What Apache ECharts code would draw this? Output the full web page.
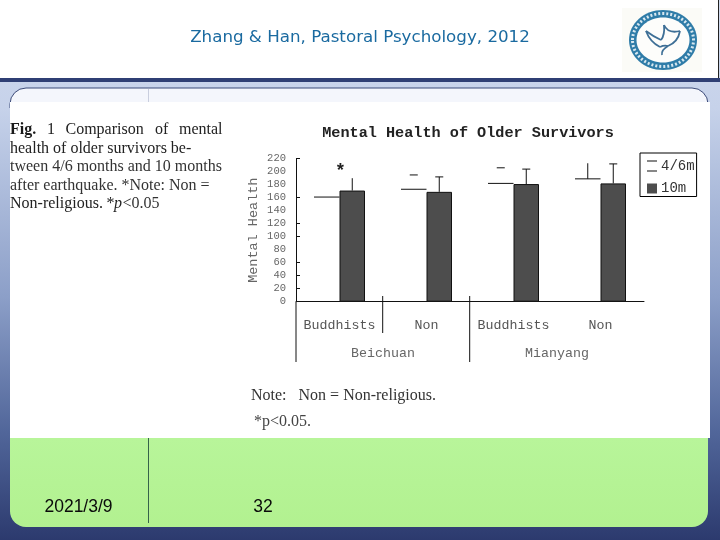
<!DOCTYPE html>
<html><head><meta charset="utf-8">
<style>html,body{margin:0;padding:0;background:#fff}#c{width:720px;height:540px}</style>
<script src="https://cdn.jsdelivr.net/npm/echarts@6/dist/echarts.min.js"></script></head>
<body><div id="c"></div>
<script>
const categories = ['Buddhists', 'Non', 'Buddhists', 'Non'];
const regions = ['Beichuan', 'Mianyang'];
const seriesNames = ['4/6m', '10m'];
const values46 = [161, 173, 182, 189];
const values10 = [171, 169, 181, 182];
const upper46 = [null, 195, 206, 213];
const upper10 = [190, 192, 204, 212];
const significance = ['*', '', '', ''];
const yTicksShown = [20, 40, 60, 100, 120, 160, 220];

const MONO = '"Liberation Mono", monospace';
const SERIF = '"Liberation Serif", serif';
const SANS = '"Liberation Sans", sans-serif';
const BAR_SHARE = 25.5 / 87;

function z(el, level) { el.z = level; el.silent = true; return el; }
function rect(x, y, w, h, fill, r) {
  return z({ type: 'rect', shape: { x, y, width: w, height: h, r: r || 0 }, style: { fill } }, -10);
}
function line(x1, y1, x2, y2, stroke, lw) {
  return z({ type: 'line', shape: { x1, y1, x2, y2 }, style: { stroke, lineWidth: lw || 1 } }, -5);
}
function txt(text, x, y, font, fill, align) {
  return z({ type: 'text', x, y, style: { text, font, fill, textAlign: align || 'left', textVerticalAlign: 'middle' } }, -5);
}
function curve(x1, y1, cpx1, cpy1, x2, y2) {
  return z({ type: 'bezierCurve', shape: { x1, y1, cpx1, cpy1, x2, y2 },
    style: { fill: 'none', stroke: '#3e6f96', lineWidth: 1.8 } }, -3);
}
function grad(stops) {
  return { type: 'linear', x: 0, y: 0, x2: 0, y2: 1, colorStops: stops };
}

const capFont = 'bold 16px ' + SERIF, bodyFont = '16px ' + SERIF;
const graphics = [
  rect(0, 0, 720, 540, grad([
    { offset: 0, color: '#d2dbee' }, { offset: 0.2, color: '#c6d2ea' },
    { offset: 0.55, color: '#8c9fc8' }, { offset: 0.8, color: '#51669a' }, { offset: 1, color: '#2c3a6e' }])),
  rect(0, 0, 718, 78, '#ffffff'),
  line(718.5, 0, 718.5, 78, '#222'),
  rect(0, 78, 720, 4, '#2f3f74'),
  z({ type: 'rect', shape: { x: 10, y: 88, width: 698, height: 20, r: [16, 16, 0, 0] },
      style: { fill: '#f4f6fc', stroke: '#3b4a78', lineWidth: 1 } }, -9),
  z({ type: 'rect', shape: { x: 10, y: 438, width: 698, height: 89, r: [0, 0, 16, 16] },
      style: { fill: grad([{ offset: 0, color: '#b8f59a' }, { offset: 1, color: '#b2f190' }]) } }, -9),
  z({ type: 'rect', shape: { x: 10, y: 102, width: 700, height: 336 }, style: { fill: '#fff' } }, -8),
  line(148.5, 89, 148.5, 102, '#c9cede'),
  line(148.5, 438, 148.5, 523, '#35624a'),

  // header
  txt('Zhang & Han, Pastoral Psychology, 2012', 360, 38, '16.7px "DejaVu Sans", sans-serif', '#1a6aa0', 'center'),

  // logo
  z({ type: 'rect', shape: { x: 622, y: 8, width: 80, height: 64 }, style: { fill: '#fbfbf7' } }, -5),
  z({ type: 'ellipse', shape: { cx: 663, cy: 40, rx: 34, ry: 30 }, style: { fill: '#2f7ca8' } }, -4),
  z({ type: 'ellipse', shape: { cx: 663, cy: 40, rx: 30.5, ry: 26.5 },
      style: { fill: 'none', stroke: '#d8e8f0', lineWidth: 3, lineDash: [2, 2] } }, -4),
  z({ type: 'ellipse', shape: { cx: 663, cy: 40, rx: 26.5, ry: 22.5 }, style: { fill: '#fdfdfb' } }, -4),
  curve(646, 31, 654, 37, 661, 40),
  curve(646, 31, 650, 42, 660, 47),
  curve(661, 40, 665, 35, 664, 25),
  curve(664, 25, 668, 34, 680, 31),
  curve(680, 31, 678, 42, 668, 46),
  curve(668, 46, 661, 50, 662, 55),
  curve(660, 47, 664, 45, 668, 46),
  txt('1 9 5 1', 663, 57, '6px ' + SANS, '#8a9aa8', 'center'),

  // figure caption, set word by word like the justified original
  txt('Fig.', 10, 130, capFont, '#1a1a1a'),
  txt('1', 47, 130, bodyFont, '#222'), txt('Comparison', 65.5, 130, bodyFont, '#222'),
  txt('of', 155, 130, bodyFont, '#222'), txt('mental', 179, 130, bodyFont, '#222'),
  txt('health of older survivors be-', 10, 149, bodyFont, '#222'),
  txt('tween 4/6 months and 10 months', 10, 167, bodyFont, '#333'),
  txt('after earthquake. *Note: Non =', 10, 186, bodyFont, '#333'),
  txt('Non-religious.', 10, 204, bodyFont, '#222'),
  txt('*', 106.5, 204, bodyFont, '#222'),
  txt('p', 114, 204, 'italic 16px ' + SERIF, '#222'),
  txt('<0.05', 122.5, 204, bodyFont, '#333'),

  // note below the chart
  txt('Note:   Non = Non-religious.', 251, 396, bodyFont, '#333'),
  txt('*p<0.05.', 254, 422, bodyFont, '#444'),

  // footer
  txt('2021/3/9', 78.5, 507, '17.5px ' + SANS, '#0a0a0a', 'center'),
  txt('32', 263, 507, '17.5px ' + SANS, '#0a0a0a', 'center'),

  // group separators of the category axis
  line(296, 302, 296, 362, '#111'),
  line(382.7, 296, 382.7, 333, '#111'),
  line(469.7, 296, 469.7, 362, '#111')
];

function renderMarks(params, api) {
  const i = api.value(0), top46 = api.value(1), err46 = api.value(2), err10 = api.value(3);
  const w = api.size([1, 0])[0] * BAR_SHARE;
  const cx = api.coord([i, 0])[0];
  const y = v => api.coord([i, v])[1];
  const st = { stroke: '#111', lineWidth: 1, fill: 'none' };
  const seg = (x1, y1, x2, y2) => ({ type: 'line', shape: { x1, y1, x2, y2 }, style: st });
  const kids = [seg(cx - w, y(top46), cx, y(top46))];
  const x46 = cx - w / 2, x10 = cx + w / 2;
  if (!isNaN(err46)) {
    if (i === 3) kids.push(seg(x46, y(top46), x46, y(err46)));
    else kids.push(seg(x46 - 4, y(err46), x46 + 4, y(err46)));
  }
  kids.push(seg(x10, y(values10[i]), x10, y(err10)));
  if (i !== 0) kids.push(seg(x10 - 4, y(err10), x10 + 4, y(err10)));
  if (significance[i]) {
    kids.push({ type: 'text', style: { text: significance[i], x: cx + 1, y: y(upper10[i]) - 7,
      font: 'bold 18px ' + MONO, fill: '#222', textAlign: 'center', textVerticalAlign: 'middle' } });
  }
  return { type: 'group', children: kids };
}

const chart = echarts.init(document.getElementById('c'), null, { renderer: 'canvas' });
chart.setOption({
  animation: false,
  backgroundColor: '#fff',
  title: {
    text: 'Mental Health of Older Survivors', left: 468, top: 125, textAlign: 'center', padding: 0,
    textStyle: { fontFamily: MONO, fontWeight: 'bold', fontSize: 15.2, color: '#222', lineHeight: 16 }
  },
  legend: {
    left: 640, top: 153, orient: 'vertical', selectedMode: false,
    padding: [6, 2, 1, 7], itemGap: 8.5, itemWidth: 10, itemHeight: 11,
    borderColor: '#000', borderWidth: 1, borderRadius: 0, backgroundColor: '#fff',
    textStyle: { fontFamily: MONO, fontSize: 14, color: '#333', padding: [0, 0, 0, -1] },
    data: [
      { name: seriesNames[0], icon: 'path://M0 0H10V1H0Z M0 10H10V11H0Z', itemStyle: { color: '#111', borderWidth: 0 } },
      { name: seriesNames[1], icon: 'path://M0 0H10V10H0Z', itemStyle: { color: '#4d4d4d', borderWidth: 0 } }
    ]
  },
  grid: { left: 296, right: 76, top: 158.7, bottom: 238.3 },
  xAxis: [
    { type: 'category', data: categories, position: 'bottom',
      axisLine: { lineStyle: { color: '#111', width: 1 } }, axisTick: { show: false },
      axisLabel: { interval: 0, margin: 17, fontFamily: MONO, fontSize: 13.3, color: '#555' } },
    { type: 'category', data: regions, position: 'bottom', offset: 0,
      axisLine: { show: false }, axisTick: { show: false },
      axisLabel: { interval: 0, margin: 45, fontFamily: MONO, fontSize: 13.3, color: '#666' } }
  ],
  yAxis: {
    type: 'value', min: 0, max: 220, interval: 20,
    name: 'Mental Health', nameLocation: 'middle', nameGap: 36, nameRotate: 90,
    nameTextStyle: { fontFamily: MONO, fontSize: 13.5, color: '#666' },
    axisLine: { show: true, lineStyle: { color: '#111', width: 1 } },
    axisTick: { show: true, inside: true, length: 4, customValues: yTicksShown, lineStyle: { color: '#111' } },
    splitLine: { show: false },
    axisLabel: { margin: 10, fontFamily: MONO, fontSize: 10.5, color: '#666' }
  },
  series: [
    { name: seriesNames[0], type: 'bar', data: values46, barWidth: 25.5, barGap: 0,
      itemStyle: { color: 'rgba(255,255,255,0)' }, silent: true },
    { name: seriesNames[1], type: 'bar', data: values10, barWidth: 25.5, barGap: 0,
      itemStyle: { color: '#4d4d4d', borderColor: '#111', borderWidth: 1 }, silent: true },
    { name: 'marks', type: 'custom', renderItem: renderMarks, clip: false, silent: true, z: 5,
      data: categories.map((c, i) => [i, values46[i], upper46[i], upper10[i]]) }
  ],
  graphic: { elements: graphics }
});
</script></body></html>
